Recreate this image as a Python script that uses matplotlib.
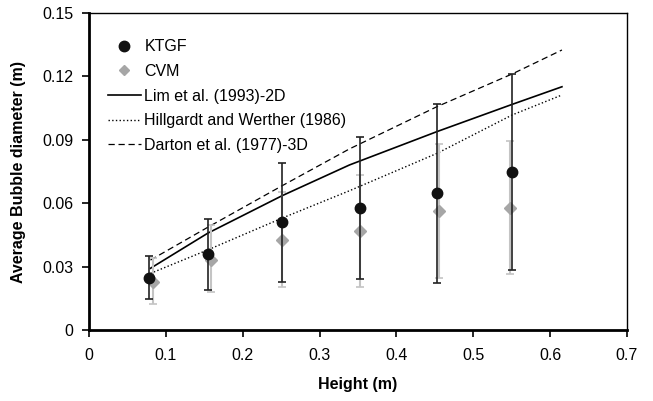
import numpy as np
import matplotlib.pyplot as plt
from matplotlib.lines import Line2D

plt.rcParams['font.family'] = ['Liberation Sans', 'DejaVu Sans']

# simulated bubble diameters
h_ktgf = [0.0785, 0.1545, 0.251, 0.353, 0.453, 0.551]
d_ktgf = [0.0247, 0.0358, 0.0510, 0.0576, 0.0647, 0.0746]
up_ktgf = [0.0350, 0.0525, 0.0792, 0.0913, 0.1068, 0.1212]
lo_ktgf = [0.0145, 0.0189, 0.0227, 0.0240, 0.0224, 0.0284]

h_cvm = [0.083, 0.1585, 0.251, 0.353, 0.455, 0.548]
d_cvm = [0.0229, 0.0331, 0.0426, 0.0469, 0.0562, 0.0576]
up_cvm = [0.0340, 0.0497, 0.0655, 0.0735, 0.0880, 0.0893]
lo_cvm = [0.0122, 0.0181, 0.0202, 0.0202, 0.0248, 0.0265]

# correlations
h_corr = [0.08, 0.1545, 0.251, 0.339, 0.453, 0.551, 0.6155]
d_lim = [0.0292, 0.0458, 0.0635, 0.0781, 0.0939, 0.1068, 0.1151]
d_hill = [0.0268, 0.0379, 0.0529, 0.0659, 0.0836, 0.1018, 0.1112]
d_darton = [0.0331, 0.0486, 0.0682, 0.0857, 0.1057, 0.1212, 0.1325]

fig = plt.figure(figsize=(6.53, 4.01), dpi=100)
ax = fig.add_axes([0.1363, 0.177, 0.8237, 0.7906])

err_k = [np.array(d_ktgf) - np.array(lo_ktgf), np.array(up_ktgf) - np.array(d_ktgf)]
err_c = [np.array(d_cvm) - np.array(lo_cvm), np.array(up_cvm) - np.array(d_cvm)]

ax.errorbar(h_cvm, d_cvm, yerr=err_c, fmt='D', color='#a6a6a6', ms=6,
            ecolor='#c4c4c4', elinewidth=1.5, capsize=3, capthick=1.2, zorder=3)
ax.errorbar(h_ktgf, d_ktgf, yerr=err_k, fmt='o', color='#111111', ms=7.5,
            ecolor='#222222', elinewidth=1.2, capsize=3, capthick=1.2, zorder=4)

ax.plot(h_corr, d_lim, '-', color='black', lw=1.2)
ax.plot(h_corr, d_hill, ':', color='black', lw=1.0)
ax.plot(h_corr, d_darton, '--', color='black', lw=0.9, dashes=(5, 3))

ax.set_xlim(0, 0.7)
ax.set_ylim(0, 0.15)
ax.set_xticks(np.arange(0, 0.71, 0.1))
ax.set_xticklabels(['0', '0.1', '0.2', '0.3', '0.4', '0.5', '0.6', '0.7'])
ax.set_yticks([0, 0.03, 0.06, 0.09, 0.12, 0.15])
ax.set_yticklabels(['0', '0.03', '0.06', '0.09', '0.12', '0.15'])
ax.tick_params(direction='out', length=5, width=1.2, labelsize=11.5)
ax.tick_params(axis='x', pad=8)
ax.tick_params(axis='y', pad=6)

for s in ['left', 'bottom']:
    ax.spines[s].set_linewidth(2)
for s in ['top', 'right']:
    ax.spines[s].set_linewidth(1)

ax.set_xlabel('Height (m)', fontsize=11.5, fontweight='bold', labelpad=10)
ax.set_ylabel('Average Bubble diameter (m)', fontsize=11.5, fontweight='bold', labelpad=12)

handles = [
    Line2D([], [], ls='none', marker='o', color='#111111', ms=7.5),
    Line2D([], [], ls='none', marker='D', color='#a6a6a6', ms=5.5),
    Line2D([], [], ls='-', color='black', lw=1.2),
    Line2D([], [], ls=':', color='black', lw=1.0),
    Line2D([], [], ls='--', color='black', lw=0.9, dashes=(5, 3)),
]
labels = ['KTGF', 'CVM', 'Lim et al. (1993)-2D', 'Hillgardt and Werther (1986)',
          'Darton et al. (1977)-3D']
ax.legend(handles, labels, loc='upper left', frameon=False, fontsize=11.5,
          handlelength=2.1, handletextpad=0.2, labelspacing=0.6,
          bbox_to_anchor=(0.008, 0.962))

fig.savefig('out.png', dpi=100)
